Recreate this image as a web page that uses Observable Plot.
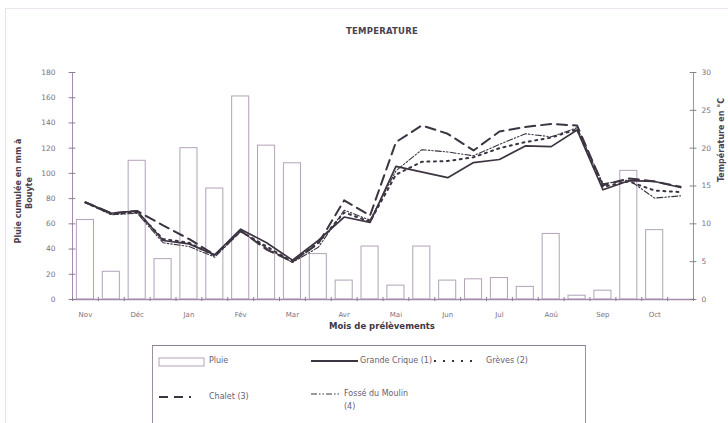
<!DOCTYPE html>
<html>
<head>
<meta charset="utf-8">
<script src="https://cdn.jsdelivr.net/npm/d3@7"></script>
<script src="https://cdn.jsdelivr.net/npm/@observablehq/plot@0.6"></script>
<style>
  html, body { margin: 0; padding: 0; background: #fff; }
  #wrap { position: relative; width: 728px; height: 423px; overflow: hidden; font-family: "DejaVu Sans", sans-serif; }
  #chart { position: absolute; left: 0; top: 0; }
  .lbl { position: absolute; white-space: nowrap; color: #4a4250; }
  #frame { position: absolute; left: 5px; top: 8px; width: 740px; height: 430px; border-left: 1px solid #eadfea; border-top: 1px solid #eee6ee; }
  #legend { position: absolute; left: 152px; top: 345px; width: 432px; height: 100px; border: 1px solid #9c8fa0; border-top: 1.5px solid #8d7f93; }
  #legend svg { position: absolute; left: 0; top: 0; }
  .lg { position: absolute; font-size: 8px; color: #6a6070; white-space: nowrap; }
</style>
</head>
<body>
<div id="wrap">
  <div id="frame"></div>
  <div id="chart"></div>
  <div class="lbl" style="left:0;width:764px;top:26px;text-align:center;font-size:8.5px;font-weight:bold;letter-spacing:0.2px;color:#4a4250;">TEMPERATURE</div>
  <div class="lbl" style="left:0;width:764px;top:321px;text-align:center;font-size:8.5px;font-weight:bold;color:#3e3644;">Mois de prélèvements</div>
  <div class="lbl" style="left:18px;top:191px;transform:translate(-50%,-50%) rotate(-90deg);font-size:8px;font-weight:bold;color:#4a4250;">Pluie cumulée en mm à</div>
  <div class="lbl" style="left:29px;top:193px;transform:translate(-50%,-50%) rotate(-90deg);font-size:8px;font-weight:bold;color:#4a4250;">Bouyte</div>
  <div class="lbl" style="left:721px;top:140px;transform:translate(-50%,-50%) rotate(-90deg);font-size:8px;font-weight:bold;color:#4a4250;">Température en °C</div>
  <div id="legend">
    <svg width="432" height="80">
      <rect x="6" y="12" width="45" height="8" fill="white" stroke="#b3a2b8" stroke-width="1"/>
      <line x1="158" y1="15" x2="205" y2="15" stroke="#3d3442" stroke-width="2"/>
      <line x1="281" y1="15" x2="321" y2="15" stroke="#3d3442" stroke-width="2" stroke-dasharray="2,7"/>
      <line x1="6" y1="51" x2="38" y2="51" stroke="#3d3442" stroke-width="2" stroke-dasharray="9,6"/>
      <line x1="158" y1="48" x2="188" y2="48" stroke="#3d3442" stroke-width="1.2" stroke-dasharray="6,2,1.5,2,1.5,2"/>
    </svg>
    <div class="lg" style="left:56px;top:10px;">Pluie</div>
    <div class="lg" style="left:207px;top:10px;">Grande Crique (1)</div>
    <div class="lg" style="left:333px;top:10px;">Grèves (2)</div>
    <div class="lg" style="left:56px;top:46px;">Chalet (3)</div>
    <div class="lg" style="left:191px;top:43px;">Fossé du Moulin</div>
    <div class="lg" style="left:191px;top:56px;">(4)</div>
  </div>
</div>
<script>
// Month labels (one label every two fortnightly samples)
const months = ["Nov","Déc","Jan","Fév","Mar","Avr","Mai","Jun","Jul","Aoû","Sep","Oct"];
// Sample index (24 fortnightly samples Nov -> Oct)
const samples = [1,2,3,4,5,6,7,8,9,10,11,12,13,14,15,16,17,18,19,20,21,22,23,24];
// Rainfall (mm), left axis
const pluie = [63,22,110,32,120,88,161,122,108,36,15,42,11,42,15,16,17,10,52,3,7,102,55,null];
// Water temperatures (°C), right axis
const grandeCrique = [12.85,11.4,11.7,7.8,7.35,5.9,9.3,7.5,5.2,7.8,10.9,10.2,17.6,null,16.1,18.1,18.5,20.3,20.2,22.4,14.5,15.7,15.6,14.8];
const greves       = [12.8,11.3,11.5,8.0,7.5,5.8,9.0,7.0,5.0,7.5,11.5,10.3,16.5,18.2,18.3,18.8,20.0,20.8,21.4,22.5,14.9,15.6,14.4,14.2];
const chalet       = [12.85,11.4,11.7,9.8,8.0,5.9,9.1,6.6,5.0,7.4,13.1,11.1,20.8,23.0,21.9,19.7,22.2,22.8,23.2,23.0,15.1,16.0,15.6,14.9];
const fosse        = [12.8,11.2,11.4,7.5,7.0,5.6,9.0,6.8,4.9,6.9,11.8,10.5,17.0,19.8,19.5,19.0,20.5,21.9,21.5,22.7,15.3,15.8,13.4,13.7];
// Axis ticks
const rainTicks = [0,20,40,60,80,100,120,140,160,180];
const tempTicks = [0,5,10,15,20,25,30];

const RATIO = 6; // 180 mm <-> 30 °C
const lineColor = "#3d3442";
const axisColor = "#a58bae";
const barColor = "#b3a2b8";
const tickText = "#7a7080";

const bars = samples.map((s, k) => ({i: s, r: pluie[k]})).filter(d => d.r != null);
const series = (arr) => samples.map((s, k) => ({i: s, t: arr[k]})).filter(d => d.t != null);
const monthTicks = months.map((m, k) => ({i: samples[2 * k], m}));
const bounds = [0.5].concat(samples.map(s => s + 0.5));

const chart = Plot.plot({
  width: 728,
  height: 423,
  marginLeft: 72,
  marginRight: 35,
  marginTop: 72,
  marginBottom: 124,
  style: {fontFamily: "DejaVu Sans, sans-serif", background: "transparent"},
  x: {domain: [0.5, 24.5], axis: null},
  y: {domain: [0, 180], axis: null},
  marks: [
    Plot.rect(bars, {x1: d => d.i - 0.33, x2: d => d.i + 0.33, y1: 0, y2: "r", fill: "white", stroke: barColor, strokeWidth: 1}),
    Plot.ruleX([0.5, 24.5], {stroke: axisColor, strokeWidth: 1}),
    Plot.ruleY([0], {stroke: axisColor, strokeWidth: 1.3}),
    Plot.ruleY(rainTicks, {y: d => d, x1: 0.5 - 0.13, x2: 0.5 + 0.13, stroke: "#8a7f90"}),
    Plot.ruleY(tempTicks, {y: d => d * RATIO, x1: 24.5 - 0.13, x2: 24.5 + 0.13, stroke: "#8a7f90"}),
    Plot.ruleX(bounds, {x: d => d, y1: -1.6, y2: 1.6, stroke: "#8a7f90"}),
    Plot.text(rainTicks, {x: 0.5, y: d => d, text: d => String(d), dx: -17, textAnchor: "end", fill: tickText, fontSize: 7.5}),
    Plot.text(tempTicks, {x: 24.5, y: d => d * RATIO, text: d => String(d), dx: 8, textAnchor: "start", fill: tickText, fontSize: 7.5}),
    Plot.text(monthTicks, {x: "i", y: 0, text: "m", dy: 15, fill: tickText, fontSize: 7}),
    Plot.line(series(fosse), {x: "i", y: d => d.t * RATIO, stroke: lineColor, strokeWidth: 1.1, strokeDasharray: "6,2,1.5,2,1.5,2"}),
    Plot.line(series(greves), {x: "i", y: d => d.t * RATIO, stroke: lineColor, strokeWidth: 2, strokeDasharray: "2,4.5"}),
    Plot.line(series(chalet), {x: "i", y: d => d.t * RATIO, stroke: lineColor, strokeWidth: 2, strokeDasharray: "10,6"}),
    Plot.line(series(grandeCrique), {x: "i", y: d => d.t * RATIO, stroke: lineColor, strokeWidth: 1.7})
  ]
});
document.getElementById("chart").appendChild(chart);
</script>
</body>
</html>
